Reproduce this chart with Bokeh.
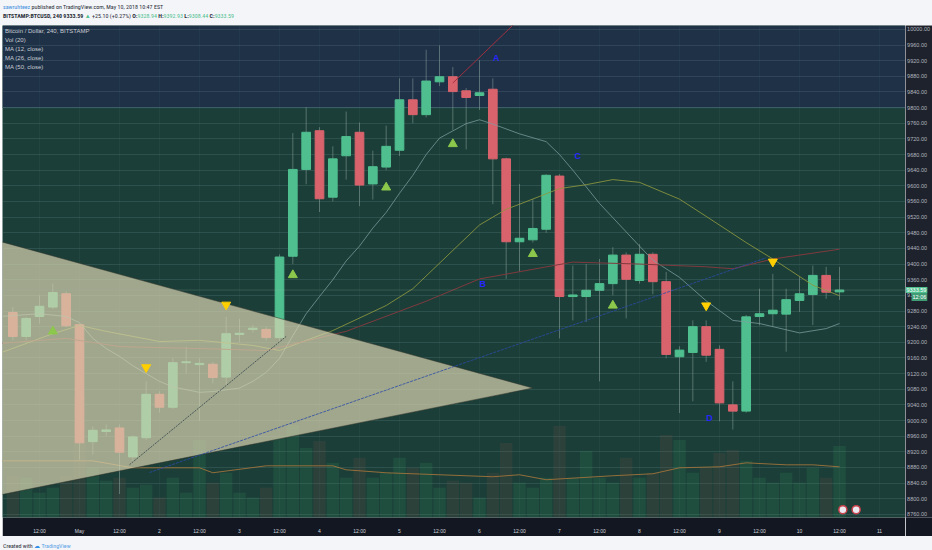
import pandas as pd
from bokeh.plotting import figure
from bokeh.models import (ColumnDataSource, Range1d, FixedTicker, BoxAnnotation, Span, Label,
                          Legend, LegendItem, Div)
from bokeh.layouts import column, row
from bokeh.core.properties import value
from bokeh.embed import file_html
from bokeh.resources import INLINE

# ---------------- data ----------------
FIRST_BAR = "2018-04-30 04:00"
DAY0 = "2018-05-01 00:00"

opens = [9276, 9215, 9266, 9290, 9324, 9245, 8946, 8972, 8981, 8907,
         8956, 9067, 9034, 9148, 9143, 9144, 9111, 9220, 9233, 9233,
         9212, 9420, 9642, 9741, 9571, 9677, 9737, 9605, 9648, 9691,
         9820, 9782, 9866, 9879, 9843, 9831, 9847, 9669, 9457, 9462,
         9489, 9625, 9317, 9317, 9333, 9350, 9423, 9358, 9425, 9355,
         9163, 9174, 9240, 9182, 9040, 9024, 9266, 9273, 9272, 9307,
         9322, 9371, 9328.94]
highs = [9290, 9265, 9320, 9350, 9330, 9248, 8985, 8990, 8990, 8962,
         9100, 9075, 9160, 9189, 9159, 9150, 9265, 9260, 9245, 9240,
         9425, 9735, 9801, 9750, 9701, 9790, 9762, 9690, 9754, 9875,
         9875, 9948, 9959, 9904, 9850, 9921, 9875, 9672, 9605, 9566,
         9630, 9630, 9396, 9400, 9413, 9443, 9430, 9451, 9430, 9380,
         9190, 9256, 9256, 9192, 9100, 9270, 9337, 9375, 9337, 9367,
         9396, 9393, 9392.93]
lows = [9205, 9205, 9248, 9285, 9238, 8900, 8913, 8960, 8812, 8895,
        8950, 9020, 9030, 9120, 8999, 9095, 9091, 9200, 9225, 9205,
        9200, 9400, 9604, 9533, 9560, 9616, 9548, 9565, 9640, 9676,
        9760, 9775, 9855, 9743, 9693, 9794, 9553, 9362, 9380, 9455,
        9480, 9210, 9256, 9252, 9100, 9320, 9261, 9350, 9323, 9159,
        9019, 9049, 9150, 8998, 8977, 9020, 9243, 9240, 9176, 9278,
        9244, 9311, 9308.44]
closes = [9215, 9261, 9292, 9327, 9242, 8943, 8975, 8976, 8919, 8958,
          9067, 9034, 9148, 9150, 9146, 9110, 9222, 9223, 9236, 9212,
          9418, 9642, 9737, 9567, 9669, 9726, 9602, 9649, 9701, 9820,
          9782, 9868, 9879, 9841, 9826, 9838, 9669, 9457, 9466, 9491,
          9627, 9317, 9321, 9333, 9350, 9423, 9361, 9425, 9355, 9169,
          9180, 9240, 9167, 9045, 9024, 9265, 9273, 9282, 9309, 9324,
          9371, 9328, 9333.59]
volumes = [420, 400, 250, 300, 420, 1230, 500, 370, 400, 300,
           330, 200, 400, 250, 780, 350, 450, 250, 200, 300,
           800, 930, 700, 770, 550, 400, 600, 400, 450, 600,
           500, 550, 300, 370, 350, 200, 450, 750, 350, 300,
           400, 920, 400, 670, 400, 350, 600, 400, 450, 830,
           780, 450, 500, 650, 680, 570, 400, 350, 450, 350,
           500, 400, 720]

# moving averages (hours from May 1 00:00, price)
ma12_hours = [-24, -12, -4, 0, 4, 8, 12, 16, 24, 28, 36, 40, 48, 52, 56, 60, 64, 68, 72, 76,
              80, 84, 88, 92, 96, 100, 104, 108, 116, 120, 124, 132, 140, 144, 148, 156, 168,
              172, 180, 188, 196, 204, 212, 216, 224, 228]
ma12_values = [9266, 9273, 9266, 9250, 9210, 9184, 9164, 9140, 9100, 9086, 9072, 9074, 9083,
               9100, 9123, 9159, 9217, 9273, 9317, 9360, 9408, 9446, 9492, 9532, 9581, 9627,
               9680, 9722, 9759, 9769, 9758, 9733, 9713, 9680, 9640, 9555, 9446, 9410, 9366,
               9306, 9256, 9248, 9232, 9224, 9235, 9248]
ma26_hours = [-24, -16, -8, 0, 8, 24, 36, 52, 60, 68, 76, 92, 100, 120, 128, 132, 144, 152,
              160, 168, 180, 188, 200, 208, 220, 228]
ma26_values = [9172, 9197, 9222, 9243, 9228, 9202, 9205, 9192, 9179, 9205, 9230, 9294, 9337,
               9500, 9540, 9553, 9593, 9603, 9616, 9609, 9566, 9522, 9455, 9413, 9346, 9319]
ma50_hours = [-24, -4, 12, 36, 56, 80, 104, 120, 148, 168, 188, 196, 208, 228]
ma50_values = [9197, 9210, 9189, 9184, 9179, 9228, 9305, 9362, 9405, 9400, 9393, 9388, 9413, 9438]
volma_hours = [-24, 4, 16, 36, 40, 56, 76, 80, 92, 116, 124, 132, 140, 160, 172, 180, 192,
               200, 212, 220, 228]
volma_values = [570, 570, 500, 500, 450, 520, 520, 480, 450, 420, 410, 430, 380, 420, 440,
                500, 510, 550, 530, 530, 510]

# drawings
wedge_hours = [-26, 136, -26]
wedge_price = [9463, 9083, 8806]
blue_line_hours = [21, 206]
blue_line_price = [8867, 9416]
red_line_hours = [112, 136]
red_line_price = [9863, 10060]
dark_line_hours = [15, 62]
dark_line_price = [8887, 9215]

up_idx = [3, 21, 28, 33, 39, 45]
up_price = [9228, 9372, 9596, 9707, 9426, 9294]
down_idx = [10, 16, 52, 57]
down_price = [9136, 9296, 9294, 9406]

letters = ["A", "B", "C", "D"]
letter_hours = [125, 121, 149.5, 189]
letter_price = [9926, 9349, 9677, 9006]

event_hours = [229, 233]
event_price = [8772, 8772]

zone_level = 9800
price_ticks = list(range(8760, 10001, 40))
tick_hours = list(range(-12, 241, 12))
tick_labels = ["12:00", "May", "12:00", "2", "12:00", "3", "12:00", "4", "12:00", "5",
               "12:00", "6", "12:00", "7", "12:00", "8", "12:00", "9", "12:00", "10",
               "12:00", "11"]

author = "sawruhteez"
published = "May 10, 2018 10:47 EST"
symbol = "BITSTAMP:BTCUSD, 240"
change = "+25.10 (+0.27%)"
countdown = "12:06"

# ---------------- build ----------------
times = pd.date_range(FIRST_BAR, periods=len(opens), freq="4h")
hours = ((times - pd.Timestamp(DAY0)) / pd.Timedelta(hours=1)).tolist()

GREEN = "#4fbf8f"
RED = "#d9636d"
AXIS_BG = "#131722"
is_up = [c >= o for o, c in zip(opens, closes)]
src = ColumnDataSource(dict(
    x=hours, h=highs, l=lows,
    top=[max(o, c) for o, c in zip(opens, closes)],
    bottom=[min(o, c) for o, c in zip(opens, closes)],
    color=[GREEN if u else RED for u in is_up],
    vcolor=["#3fae6e" if u else "#b0504c" for u in is_up],
    vol=volumes,
    valpha=[0.13 if u else 0.11 for u in is_up],
))

FONT = "Liberation Sans"
yr = Range1d(8752, 10010)

p = figure(width=903, height=511, x_range=Range1d(-23.1, 247.8), y_range=yr,
           output_backend="svg", toolbar_location=None, y_axis_location=None,
           background_fill_color="#1b3f38", border_fill_color=AXIS_BG,
           min_border_left=0, min_border_top=0, min_border_right=0, min_border_bottom=16,
           outline_line_color=None)
p.margin = (0, 0, 0, 2)
p.extra_y_ranges = {"vol": Range1d(0, 4950)}

# navy zone above 9800
p.add_layout(BoxAnnotation(bottom=zone_level, fill_color="#1e3147", fill_alpha=1.0,
                           line_color=None, level="image"))
p.add_layout(Span(location=zone_level, dimension="width", line_color="#41626a",
                  line_alpha=0.9, line_width=1, level="underlay"))

xax = p.xaxis[0]
xax.ticker = FixedTicker(ticks=tick_hours)
xax.major_label_overrides = dict(zip(tick_hours, tick_labels))
xax.major_label_text_font_size = "5px"
xax.major_label_text_color = "#d1d4dc"
xax.major_label_text_font = FONT
xax.axis_line_color = None
xax.major_tick_line_color = None
xax.minor_tick_line_color = None
xax.major_label_standoff = 4

p.ygrid.ticker = FixedTicker(ticks=price_ticks)
p.ygrid.grid_line_color = "#7a9aa0"
p.ygrid.grid_line_alpha = 0.2
p.xgrid.ticker = FixedTicker(ticks=tick_hours)
p.xgrid.grid_line_color = "#7a9aa0"
p.xgrid.grid_line_alpha = 0.07

# volume
vol_r = p.vbar(x="x", top="vol", bottom=0, width=3.7, fill_color="vcolor", fill_alpha="valpha",
               line_color=None, y_range_name="vol", source=src)
volma_r = p.line(volma_hours, volma_values, y_range_name="vol", line_color="#a8763c",
                 line_width=1, line_alpha=0.85)

# candles
p.segment(x0="x", y0="l", x1="x", y1="h", line_color="#8fa8a2", line_alpha=0.5,
          line_width=1, source=src)
body_r = p.vbar(x="x", top="top", bottom="bottom", width=2.6, fill_color="color",
                line_color="color", source=src)

# moving averages
ma12_r = p.line(ma12_hours, ma12_values, line_color="#7d9da0", line_width=1, line_alpha=0.75)
ma26_r = p.line(ma26_hours, ma26_values, line_color="#8d9640", line_width=1, line_alpha=0.85)
ma50_r = p.line(ma50_hours, ma50_values, line_color="#80393f", line_width=1)

# current price line
p.add_layout(Span(location=closes[-1], dimension="width", line_color="#9fbdb4",
                  line_alpha=0.4, line_dash="1 1", line_width=1))

# wedge drawing
p.patch(wedge_hours, wedge_price, fill_color="#d9d4b0", fill_alpha=0.7,
        line_color="#2e2e28", line_alpha=0.5, line_width=1)

# trend lines
p.line(blue_line_hours, blue_line_price, line_color="#2b4aa8", line_width=1,
       line_dash="3 1", line_alpha=0.8)
p.line(red_line_hours, red_line_price, line_color="#a0303f", line_width=1)
p.line(dark_line_hours, dark_line_price, line_color="#34444e", line_width=1,
       line_dash="2 1", line_alpha=0.8)

# signal markers
p.scatter([hours[i] for i in up_idx], up_price, marker="triangle", size=9,
          fill_color="#8cc84b", line_color="#8cc84b")
p.scatter([hours[i] for i in down_idx], down_price, marker="inverted_triangle", size=9,
          fill_color="#ffcf00", line_color="#ffcf00")

# wave letters
p.text(x=letter_hours, y=letter_price, text=letters, text_color="#2626ff",
       text_font_size="9px", text_font_style="bold", text_align="center",
       text_baseline="middle", text_font=value(FONT))

# event flags near the time scale
p.scatter(event_hours, event_price, marker="circle", size=8, fill_color="#e8e8ee",
          line_color="#c8404c", line_width=1.5)

# legend (TradingView style study list)
legend = Legend(items=[
    LegendItem(label="Bitcoin / Dollar, 240, BITSTAMP", renderers=[body_r]),
    LegendItem(label="Vol (20)", renderers=[vol_r]),
    LegendItem(label="MA (12, close)", renderers=[ma12_r]),
    LegendItem(label="MA (26, close)", renderers=[ma26_r]),
    LegendItem(label="MA (50, close)", renderers=[ma50_r]),
], location="top_left", glyph_width=0, glyph_height=8, label_height=8, spacing=1,
    padding=2, margin=0, label_standoff=1, background_fill_alpha=0, border_line_alpha=0,
    label_text_font_size="6px", label_text_color="#c9ccd3", label_text_font=FONT)
p.add_layout(legend)

# ---------- price scale panel (right) ----------
s = figure(width=27, height=511, x_range=Range1d(0, 1), y_range=yr,
           output_backend="svg", toolbar_location=None, x_axis_location=None,
           y_axis_location=None, background_fill_color="#1e222d", border_fill_color=AXIS_BG,
           min_border_left=0, min_border_top=0, min_border_right=0, min_border_bottom=16,
           outline_line_color=None)
s.margin = (0, 0, 0, 0)
s.grid.visible = False
s.text(x=[0.06] * len(price_ticks), y=price_ticks, text=[f"{v:.2f}" for v in price_ticks],
       text_font_size="5.5px", text_color="#b2b5be", text_baseline="middle",
       text_align="left", text_font=value(FONT))
s.add_layout(Label(x=0.0, y=closes[-1], x_offset=0, text=f"{closes[-1]:.2f}",
                   text_font_size="5.5px", text_color="#ffffff", text_font=FONT,
                   text_baseline="middle", text_align="left",
                   background_fill_color=GREEN, padding=1))
s.add_layout(Label(x=0.0, y=closes[-1], x_offset=6, y_offset=-7, text=countdown,
                   text_font_size="5.5px", text_color="#ffffff", text_font=FONT,
                   text_baseline="middle", text_align="left",
                   background_fill_color="#3f9c75", padding=1))

HF = "'Liberation Sans Narrow','Roboto Condensed','Liberation Sans',sans-serif"
G = "#4fbf8f"
header_html = (
    f'<div style="font-family:{HF};font-size:6px;line-height:9px;color:#2a2e39;'
    f'padding:2px 0 0 3px;white-space:nowrap">'
    f'<div><span style="color:#3d8ee0">{author}</span> published on TradingView.com, {published}</div>'
    f'<div><b>{symbol}</b> <b>{closes[-1]:.2f}</b> <span style="color:{G}">&#9650;</span> {change} '
    f'<b>O:</b><span style="color:{G}">{opens[-1]:.2f}</span> '
    f'<b>H:</b><span style="color:{G}">{highs[-1]:.2f}</span> '
    f'<b>L:</b><span style="color:{G}">{lows[-1]:.2f}</span> '
    f'<b>C:</b><span style="color:{G}">{closes[-1]:.2f}</span></div></div>'
)
footer_html = (
    f'<div style="font-family:{HF};font-size:6px;line-height:9px;color:#2a2e39;'
    f'padding:2px 0 0 3px;white-space:nowrap">Created with '
    f'<span style="color:#2f8fe6">&#9729;</span> <span style="color:#5aa2e6">TradingView</span></div>'
)
header = Div(text=header_html, width=932, height=25, margin=(0, 0, 0, 0),
             styles={"background-color": "#f3f5f8"})
footer = Div(text=footer_html, width=932, height=14, margin=(0, 0, 0, 0),
             styles={"background-color": "#f3f5f8"})

layout = column(header, row(p, s, spacing=0), footer, spacing=0)
open("out.html", "w").write(file_html(layout, INLINE))
